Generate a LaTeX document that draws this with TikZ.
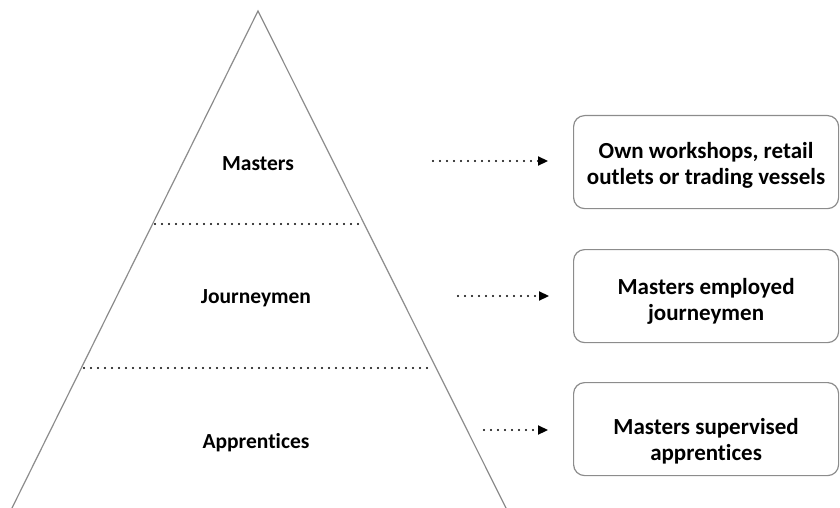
\documentclass[tikz,border=0pt]{standalone}
\usepackage{fontspec}
\setmainfont{Carlito}[Ligatures=NoCommon]
\usetikzlibrary{arrows.meta}
\begin{document}
\begin{tikzpicture}[x=1pt,y=-1pt,
  side/.style={draw=black!45,line width=1.2pt},
  divider/.style={draw=black,line width=2.2pt,line cap=round,dash pattern=on 0pt off 7pt},
  pointer/.style={draw=black,line width=2.2pt,line cap=round,dash pattern=on 0pt off 7pt,
    -{Triangle[length=10pt,width=9pt,line cap=butt]}},
  tier/.style={font=\fontsize{21.5}{26}\selectfont\bfseries,text=black},
  infobox/.style={draw=black!45,line width=1.2pt,rounded corners=11pt,
    minimum width=265pt,minimum height=93pt,anchor=north west},
  boxtext/.style={align=center,anchor=base,inner sep=0pt,
    font=\fontsize{23}{26}\selectfont\bfseries,text=black}]
  \useasboundingbox (0,0) rectangle (840,508);
  % pyramid outline
  \coordinate (apex) at (258,11);
  \coordinate (baseL) at (12,508);
  \coordinate (baseR) at (506,508);
  \draw[side] (baseL) -- (apex) -- (baseR);
  % tier dividers
  \coordinate (d1L) at (155,224);
  \coordinate (d1R) at (362,224);
  \coordinate (d2L) at (84,368);
  \coordinate (d2R) at (434,368);
  \draw[divider] (d1L) -- (d1R);
  \draw[divider] (d2L) -- (d2R);
  % tier labels
  \node[tier] (masters) at (258,164) {Masters};
  \node[tier] (journeymen) at (256,298) {Journeymen};
  \node[tier] (apprentices) at (256,443) {Apprentices};
  % description boxes (text anchored on the baseline of its last line)
  \node[infobox] (own) at (573,115) {};
  \node[infobox] (employ) at (573,249) {};
  \node[infobox] (superv) at (573,382) {};
  \node[boxtext] (ownT) at ([yshift=-22.5pt]own.center) {Own workshops, retail\\outlets or trading vessels};
  \node[boxtext] (employT) at ([yshift=-24.5pt]employ.center) {Masters employed\\journeymen};
  \node[boxtext] (supervT) at ([yshift=-31.5pt]superv.center) {Masters supervised\\apprentices};
  % pointers
  \coordinate (p1) at (433,161);
  \coordinate (p2) at (458,296);
  \coordinate (p3) at (484,430);
  \draw[pointer] (p1) -- ([xshift=-25pt]own.west |- p1);
  \draw[pointer] (p2) -- ([xshift=-24pt]employ.west |- p2);
  \draw[pointer] (p3) -- ([xshift=-25pt]superv.west |- p3);
\end{tikzpicture}
\end{document}
